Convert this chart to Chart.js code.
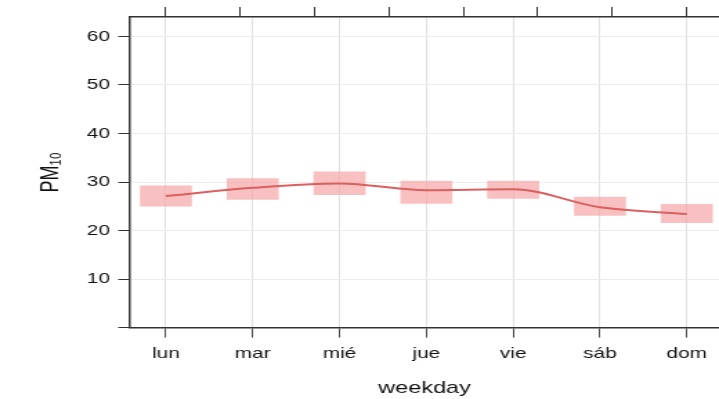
<!DOCTYPE html>
<html>
<head>
<meta charset="utf-8">
<script src="https://cdn.jsdelivr.net/npm/chart.js@4"></script>
<style>
  html, body { margin: 0; padding: 0; background: #fff; }
  canvas { display: block; }
</style>
</head>
<body>
<!-- drawn narrow, shown stretched to the full window width -->
<canvas id="chart" width="520" height="399" style="width: 719px; height: 399px;"></canvas>
<script>
// PM10 by day of week: mean with interval boxes
const days = ['lun', 'mar', 'mié', 'jue', 'vie', 'sáb', 'dom'];
const pmMean = [27.1, 28.8, 29.7, 28.3, 28.5, 24.8, 23.4];
const pmLower = [25.0, 26.4, 27.4, 25.6, 26.6, 23.1, 21.6];
const pmUpper = [29.2, 30.7, 32.1, 30.2, 30.2, 26.9, 25.4];
const yTicks = [0, 10, 20, 30, 40, 50, 60];

const font = { family: '"Liberation Sans", Arial, sans-serif', size: 15 };
const dayTicks = (axis) => { axis.ticks = days.map((d, i) => ({ value: i })); };

new Chart(document.getElementById('chart').getContext('2d'), {
  type: 'bar',
  data: {
    datasets: [
      {
        type: 'line',
        data: days.map((d, i) => ({ x: i, y: pmMean[i] })),
        borderColor: 'rgb(220, 95, 95)',
        borderWidth: 2,
        pointRadius: 0,
        cubicInterpolationMode: 'monotone',
        order: 0,
      },
      {
        data: days.map((d, i) => ({ x: i, y: [pmLower[i], pmUpper[i]] })),
        backgroundColor: 'rgba(245, 165, 165, 0.7)',
        borderWidth: 0,
        barThickness: 37,
        order: 1,
      },
    ],
  },
  options: {
    responsive: false,
    devicePixelRatio: 1,
    animation: false,
    layout: { padding: 0 },
    plugins: { legend: { display: false }, tooltip: { enabled: false } },
    scales: {
      x: {
        type: 'linear',
        position: 'bottom',
        min: -0.414,
        max: 6.371,
        offset: false,
        afterBuildTicks: dayTicks,
        afterFit: (s) => { s.height = 71.4; },
        ticks: {
          font: font,
          color: '#111',
          padding: 7,
          maxRotation: 0,
          callback: (v) => days[v],
        },
        grid: { offset: false, color: '#dcdcdc', lineWidth: 0.9, tickColor: '#333', tickLength: 10 },
        border: { color: '#333', width: 1.5 },
        title: {
          display: true,
          text: 'weekday',
          color: '#111',
          font: { family: font.family, size: 17 },
          padding: { top: 2, bottom: 0 },
        },
      },
      xTop: {
        type: 'linear',
        position: 'top',
        min: -0.414,
        max: 6.371,
        afterBuildTicks: dayTicks,
        afterFit: (s) => { s.height = 17; },
        ticks: { display: false },
        grid: { drawOnChartArea: false, tickColor: '#333', tickLength: 10 },
        border: { color: '#333', width: 1.5 },
      },
      y: {
        min: 0,
        max: 64,
        afterBuildTicks: (axis) => { axis.ticks = yTicks.map((v) => ({ value: v })); },
        afterFit: (s) => { s.width = 94; },
        ticks: {
          font: font,
          color: '#111',
          padding: 6,
          callback: (v) => (v === 0 ? '' : v),
        },
        grid: { color: '#ececec', tickColor: '#333', tickLength: 8.5 },
        border: { color: '#333', width: 1.5 },
        title: {
          display: true,
          text: 'PM₁₀',
          color: '#111',
          font: { family: font.family, size: 18 },
          padding: { top: 26, bottom: 0 },
        },
      },
    },
  },
});
</script>
</body>
</html>
